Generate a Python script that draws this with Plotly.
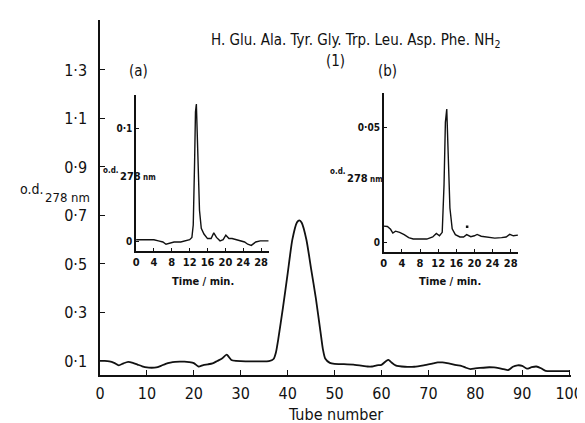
import plotly.graph_objects as go

# ---------------- data ----------------
tube = [0, 1, 2, 3, 4, 5, 6, 7, 8, 9, 10, 11, 12, 13, 14, 15, 16, 17, 18, 19,
        20, 21, 22, 23, 24, 25, 26, 27, 28, 29, 30, 32, 34, 36, 37, 37.5, 38,
        39, 40, 41, 42, 42.5, 43, 44, 45, 46, 47, 47.5, 48, 49, 50, 52, 54, 56,
        57, 58, 59, 60, 61, 61.5, 62, 63, 65, 67, 69, 71, 72, 73, 74, 76, 77,
        78, 79, 80, 81, 83, 84, 85, 86, 87, 88, 89, 90, 91, 92, 93, 94, 95, 97, 100]
od_main = [0.100, 0.100, 0.098, 0.092, 0.082, 0.090, 0.096, 0.092, 0.085, 0.078,
           0.073, 0.072, 0.073, 0.080, 0.088, 0.093, 0.096, 0.097, 0.097, 0.095,
           0.091, 0.077, 0.083, 0.086, 0.090, 0.100, 0.110, 0.126, 0.104, 0.100,
           0.099, 0.098, 0.098, 0.099, 0.108, 0.135, 0.190, 0.320, 0.460, 0.600,
           0.672, 0.680, 0.670, 0.600, 0.480, 0.360, 0.220, 0.150, 0.110, 0.092,
           0.088, 0.087, 0.085, 0.080, 0.077, 0.077, 0.082, 0.084, 0.100, 0.104,
           0.096, 0.082, 0.076, 0.076, 0.082, 0.090, 0.094, 0.094, 0.091, 0.083,
           0.080, 0.072, 0.066, 0.069, 0.071, 0.074, 0.073, 0.070, 0.066, 0.062,
           0.076, 0.082, 0.080, 0.068, 0.074, 0.077, 0.070, 0.059, 0.058, 0.058]

time_a = [0, 2, 4, 5, 6, 6.7, 7.5, 8.5, 10, 11, 12, 12.5, 12.8, 13.1, 13.3, 13.5,
          13.7, 13.9, 14.2, 14.6, 15.2, 16.0, 16.8, 17.4, 18.0, 18.8, 19.5, 20.1,
          20.8, 21.5, 22.5, 23.5, 24.3, 25.0, 25.8, 26.8, 27.8, 29.7]
od_a = [0.002, 0.002, 0.002, 0.001, 0.000, -0.002, -0.001, 0.000, 0.000, 0.001,
        0.002, 0.004, 0.015, 0.070, 0.115, 0.122, 0.095, 0.055, 0.028, 0.012,
        0.007, 0.003, 0.003, 0.008, 0.004, 0.001, 0.002, 0.006, 0.003, 0.003,
        0.002, 0.001, 0.000, -0.002, -0.003, 0.000, 0.001, 0.001]

time_b = [0, 0.8, 1.5, 2.0, 2.6, 3.5, 4.5, 5.5, 6.5, 8, 9.5, 10.8, 11.6, 12.3,
          12.9, 13.3, 13.6, 13.9, 14.2, 14.6, 15.1, 15.8, 16.8, 17.6, 18.3, 19.2,
          20.0, 20.6, 21.5, 23, 24.5, 26, 27.0, 27.8, 28.6, 29.6]
od_b = [0.0072, 0.0070, 0.0058, 0.0042, 0.0050, 0.0045, 0.0035, 0.0022, 0.0016,
        0.0015, 0.0016, 0.0025, 0.0040, 0.0030, 0.0045, 0.0250, 0.0520, 0.0578,
        0.0400, 0.0150, 0.0060, 0.0035, 0.0025, 0.0025, 0.0035, 0.0026, 0.0030,
        0.0036, 0.0028, 0.0025, 0.0020, 0.0022, 0.0025, 0.0036, 0.0030, 0.0033]
dot_b_time = [18.4]
dot_b_od = [0.0069]

main_yticks = [0.1, 0.3, 0.5, 0.7, 0.9, 1.1, 1.3]
main_yticktext = ["0·1", "0·3", "0·5", "0·7", "0·9", "1·1", "1·3"]
main_xticks = list(range(0, 101, 10))
inset_xticks = list(range(0, 29, 4))
a_yticks = [0, 0.1]
a_yticktext = ["0", "0·1"]
b_yticks = [0, 0.05]
b_yticktext = ["0", "0·05"]

title_text = "H. Glu. Ala. Tyr. Gly. Trp. Leu. Asp. Phe. NH<sub>2</sub>"

# ---------------- layout helpers ----------------
W, H = 585, 423
L, R, T, B = 92, 10, 12, 56
PW, PH = W - L - R, H - T - B


def px(x):
    return (x - L) / PW


def py(y):
    return (H - B - y) / PH


FONT = "DejaVu Sans Condensed, Liberation Sans Narrow, DejaVu Sans, sans-serif"
INK = "#111111"

fig = go.Figure()
fig.add_trace(go.Scatter(x=tube, y=od_main, mode="lines", line=dict(color=INK, width=1.8, shape="spline", smoothing=0.6),
                         xaxis="x", yaxis="y", showlegend=False, hoverinfo="skip"))
fig.add_trace(go.Scatter(x=time_a, y=od_a, mode="lines", line=dict(color=INK, width=1.4),
                         xaxis="x2", yaxis="y2", showlegend=False, hoverinfo="skip"))
fig.add_trace(go.Scatter(x=time_b, y=od_b, mode="lines", line=dict(color=INK, width=1.4),
                         xaxis="x3", yaxis="y3", showlegend=False, hoverinfo="skip"))
fig.add_trace(go.Scatter(x=dot_b_time, y=dot_b_od, mode="markers", marker=dict(color=INK, size=2.5, symbol="square"),
                         xaxis="x3", yaxis="y3", showlegend=False, hoverinfo="skip"))

ax_common = dict(showline=True, linecolor=INK, linewidth=1.5, showgrid=False, zeroline=False,
                 ticks="inside", tickcolor=INK, tickwidth=1.2, ticklabeloverflow="allow")

fig.update_layout(
    width=W, height=H,
    margin=dict(l=L, r=R, t=T, b=B),
    paper_bgcolor="white", plot_bgcolor="white",
    font=dict(family=FONT, color=INK),
    xaxis=dict(**ax_common, range=[0, 100.4], domain=[0, 1], anchor="y", ticklen=5, ticklabelstandoff=3,
               tickvals=main_xticks, tickfont=dict(size=16, family=FONT)),
    yaxis=dict(**ax_common, range=[0.042, 1.506], domain=[0, 1], anchor="x", ticklen=5, ticklabelstandoff=8,
               tickvals=main_yticks, ticktext=main_yticktext, tickfont=dict(size=16, family=FONT)),
    xaxis2=dict(**ax_common, range=[0, 29.7], domain=[px(129), px(265)], anchor="y2", ticklen=3,
                tickvals=inset_xticks, tickfont=dict(size=11, family=FONT, weight="bold")),
    yaxis2=dict(**ax_common, range=[-0.008, 0.130], domain=[py(243), py(87)], anchor="x2", ticklen=3,
                tickvals=a_yticks, ticktext=a_yticktext, tickfont=dict(size=10, family=FONT, weight="bold")),
    xaxis3=dict(**ax_common, range=[0, 29.7], domain=[px(383), px(521)], anchor="y3", ticklen=3,
                tickvals=inset_xticks, tickfont=dict(size=11, family=FONT, weight="bold")),
    yaxis3=dict(**ax_common, range=[-0.004, 0.0647], domain=[py(244), py(85)], anchor="x3", ticklen=3,
                tickvals=b_yticks, ticktext=b_yticktext, tickfont=dict(size=10, family=FONT, weight="bold")),
)

ann = []


def add(text, x, y, size, xanchor="center", bold=False):
    ann.append(dict(text=text, x=px(x), y=py(y), xref="paper", yref="paper", showarrow=False,
                    xanchor=xanchor, yanchor="middle",
                    font=dict(size=size, family=FONT, color=INK, weight="bold" if bold else "normal")))


add(title_text, 354, 32, 15)
add("(1)", 333, 53, 15)
add("(a)", 131, 63, 15)
add("(b)", 387, 63, 15)
add("Tube number", 334, 406, 16)
# main y-axis label: o.d. with subscript 278 nm
add("o.d.", 8, 181, 14, xanchor="left")
add("278 nm", 34, 189, 13, xanchor="left")
# inset (a) y label
add("o.d.", 93, 162, 8, xanchor="left", bold=True)
add("278", 110, 168, 11, xanchor="left", bold=True)
add("nm", 134, 169, 8, xanchor="left", bold=True)
# inset (b) y label
add("o.d.", 326, 163, 8, xanchor="left", bold=True)
add("278", 343, 171, 11, xanchor="left", bold=True)
add("nm", 367, 172, 8, xanchor="left", bold=True)
add("Time / min.", 198, 273, 11, bold=True)
add("Time / min.", 451, 273, 11, bold=True)

fig.update_layout(annotations=ann)
fig.write_html("out.html")
